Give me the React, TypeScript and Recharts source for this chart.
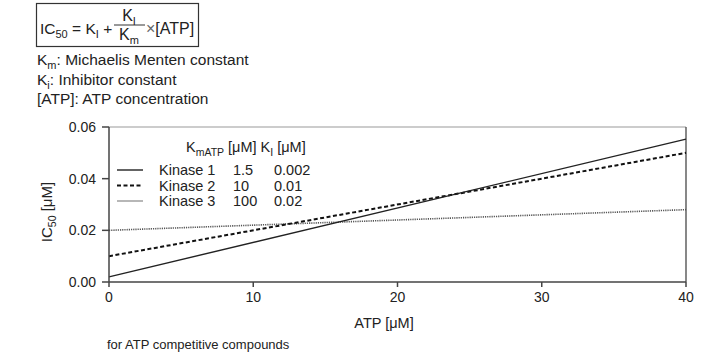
import React from "react";
import {
  LineChart,
  Line,
  XAxis,
  YAxis,
  ReferenceLine,
  Customized,
} from "recharts";

const ATP = [0, 40];
const KINASE1 = [0.002, 0.0553];
const KINASE2 = [0.01, 0.05];
const KINASE3 = [0.02, 0.028];
const X_TICKS = [0, 10, 20, 30, 40];
const Y_TICKS = [0, 0.02, 0.04, 0.06];
const LEGEND_NAMES = ["Kinase 1", "Kinase 2", "Kinase 3"];
const LEGEND_KM = ["1.5", "10", "100"];
const LEGEND_KI = ["0.002", "0.01", "0.02"];

const data = ATP.map((x, i) => ({
  atp: x,
  k1: KINASE1[i],
  k2: KINASE2[i],
  k3: KINASE3[i],
}));

const FONT = "'Liberation Sans', Arial, Helvetica, sans-serif";
const TXT = "#222";

const legendStyles = [
  { stroke: "#222", strokeWidth: 1.4, dash: undefined },
  { stroke: "#111", strokeWidth: 2, dash: "4 2.5" },
  { stroke: "#888", strokeWidth: 1.2, dash: undefined },
];

function Overlay() {
  return (
    <g fontFamily={FONT} fill={TXT}>
      {/* formula box */}
      <rect x={36.5} y={3.5} width={162} height={43} fill="none" stroke="#333" strokeWidth={1.2} />
      <text x={40} y={34} fontSize={15.5}>
        IC<tspan fontSize={11} dy={4}>50</tspan>
        <tspan dy={-4}> = K</tspan>
        <tspan fontSize={11} dy={4}>I</tspan>
        <tspan dy={-4}> +</tspan>
      </text>
      <text x={129} y={21} fontSize={16} textAnchor="middle">
        K<tspan fontSize={11} dy={4}>I</tspan>
      </text>
      <line x1={114} x2={145} y1={25} y2={25} stroke="#333" strokeWidth={1} />
      <text x={129} y={40} fontSize={16} textAnchor="middle">
        K<tspan fontSize={11} dy={4}>m</tspan>
      </text>
      <text x={146} y={34} fontSize={16}>
        <tspan fill="#666">×</tspan>[ATP]
      </text>
      {/* definitions */}
      <text x={37} y={65} fontSize={15.5}>
        K<tspan fontSize={11} dy={4}>m</tspan>
        <tspan dy={-4}>: Michaelis Menten constant</tspan>
      </text>
      <text x={37} y={84.5} fontSize={15.5}>
        K<tspan fontSize={11} dy={4}>i</tspan>
        <tspan dy={-4}>: Inhibitor constant</tspan>
      </text>
      <text x={37} y={103.5} fontSize={15.5}>
        [ATP]: ATP concentration
      </text>
      {/* legend */}
      <text x={186} y={152} fontSize={14.5}>
        K<tspan fontSize={10.5} dy={4}>mATP</tspan>
        <tspan dy={-4}> [μM] K</tspan>
        <tspan fontSize={10.5} dy={4}>I</tspan>
        <tspan dy={-4}> [μM]</tspan>
      </text>
      {LEGEND_NAMES.map((name, i) => {
        const y = 175 + i * 15.5;
        const s = legendStyles[i];
        return (
          <g key={name}>
            <line
              x1={117}
              x2={143}
              y1={y - 5}
              y2={y - 5}
              stroke={s.stroke}
              strokeWidth={s.strokeWidth}
              strokeDasharray={s.dash}
            />
            <text x={159} y={y} fontSize={14.5}>{name}</text>
            <text x={233} y={y} fontSize={14.5}>{LEGEND_KM[i]}</text>
            <text x={274} y={y} fontSize={14.5}>{LEGEND_KI[i]}</text>
          </g>
        );
      })}
      {/* axis titles */}
      <text transform="translate(52,212) rotate(-90)" fontSize={15} textAnchor="middle">
        IC<tspan fontSize={10.5} dy={4}>50</tspan>
        <tspan dy={-4}> [μM]</tspan>
      </text>
      <text x={384} y={328} fontSize={14.5} textAnchor="middle">ATP [μM]</text>
      <text x={107} y={349} fontSize={13}>for ATP competitive compounds</text>
    </g>
  );
}

export default function App() {
  return (
    <div style={{ position: "absolute", left: 0, top: 0, width: 708, height: 364, background: "#fff" }}>
      <LineChart
        width={708}
        height={364}
        data={data}
        margin={{ top: 127, right: 22, bottom: 52, left: 49 }}
      >
        <XAxis
          dataKey="atp"
          type="number"
          domain={[0, 40]}
          ticks={X_TICKS}
          height={30}
          tickSize={5}
          tickMargin={5}
          axisLine={{ stroke: "#444", strokeWidth: 1.5 }}
          tickLine={{ stroke: "#444", strokeWidth: 1.5 }}
          tick={{ fill: TXT, fontSize: 14, fontFamily: FONT }}
        />
        <YAxis
          type="number"
          domain={[0, 0.06]}
          ticks={Y_TICKS}
          width={60}
          tickSize={7}
          tickMargin={6}
          tickFormatter={(v: number) => v.toFixed(2)}
          axisLine={{ stroke: "#444", strokeWidth: 1.5 }}
          tickLine={{ stroke: "#444", strokeWidth: 1.5 }}
          tick={{ fill: TXT, fontSize: 14, fontFamily: FONT }}
        />
        <ReferenceLine y={0.06} stroke="#999" strokeWidth={1.2} />
        <ReferenceLine x={40} stroke="#555" strokeWidth={1.4} />
        <Line
          dataKey="k3"
          stroke="#555"
          strokeWidth={1.6}
          strokeDasharray="1.2 1"
          dot={false}
          isAnimationActive={false}
        />
        <Line
          dataKey="k2"
          stroke="#111"
          strokeWidth={2}
          strokeDasharray="4 2.5"
          dot={false}
          isAnimationActive={false}
        />
        <Line
          dataKey="k1"
          stroke="#222"
          strokeWidth={1.4}
          dot={false}
          isAnimationActive={false}
        />
        <Customized component={Overlay} />
      </LineChart>
    </div>
  );
}
